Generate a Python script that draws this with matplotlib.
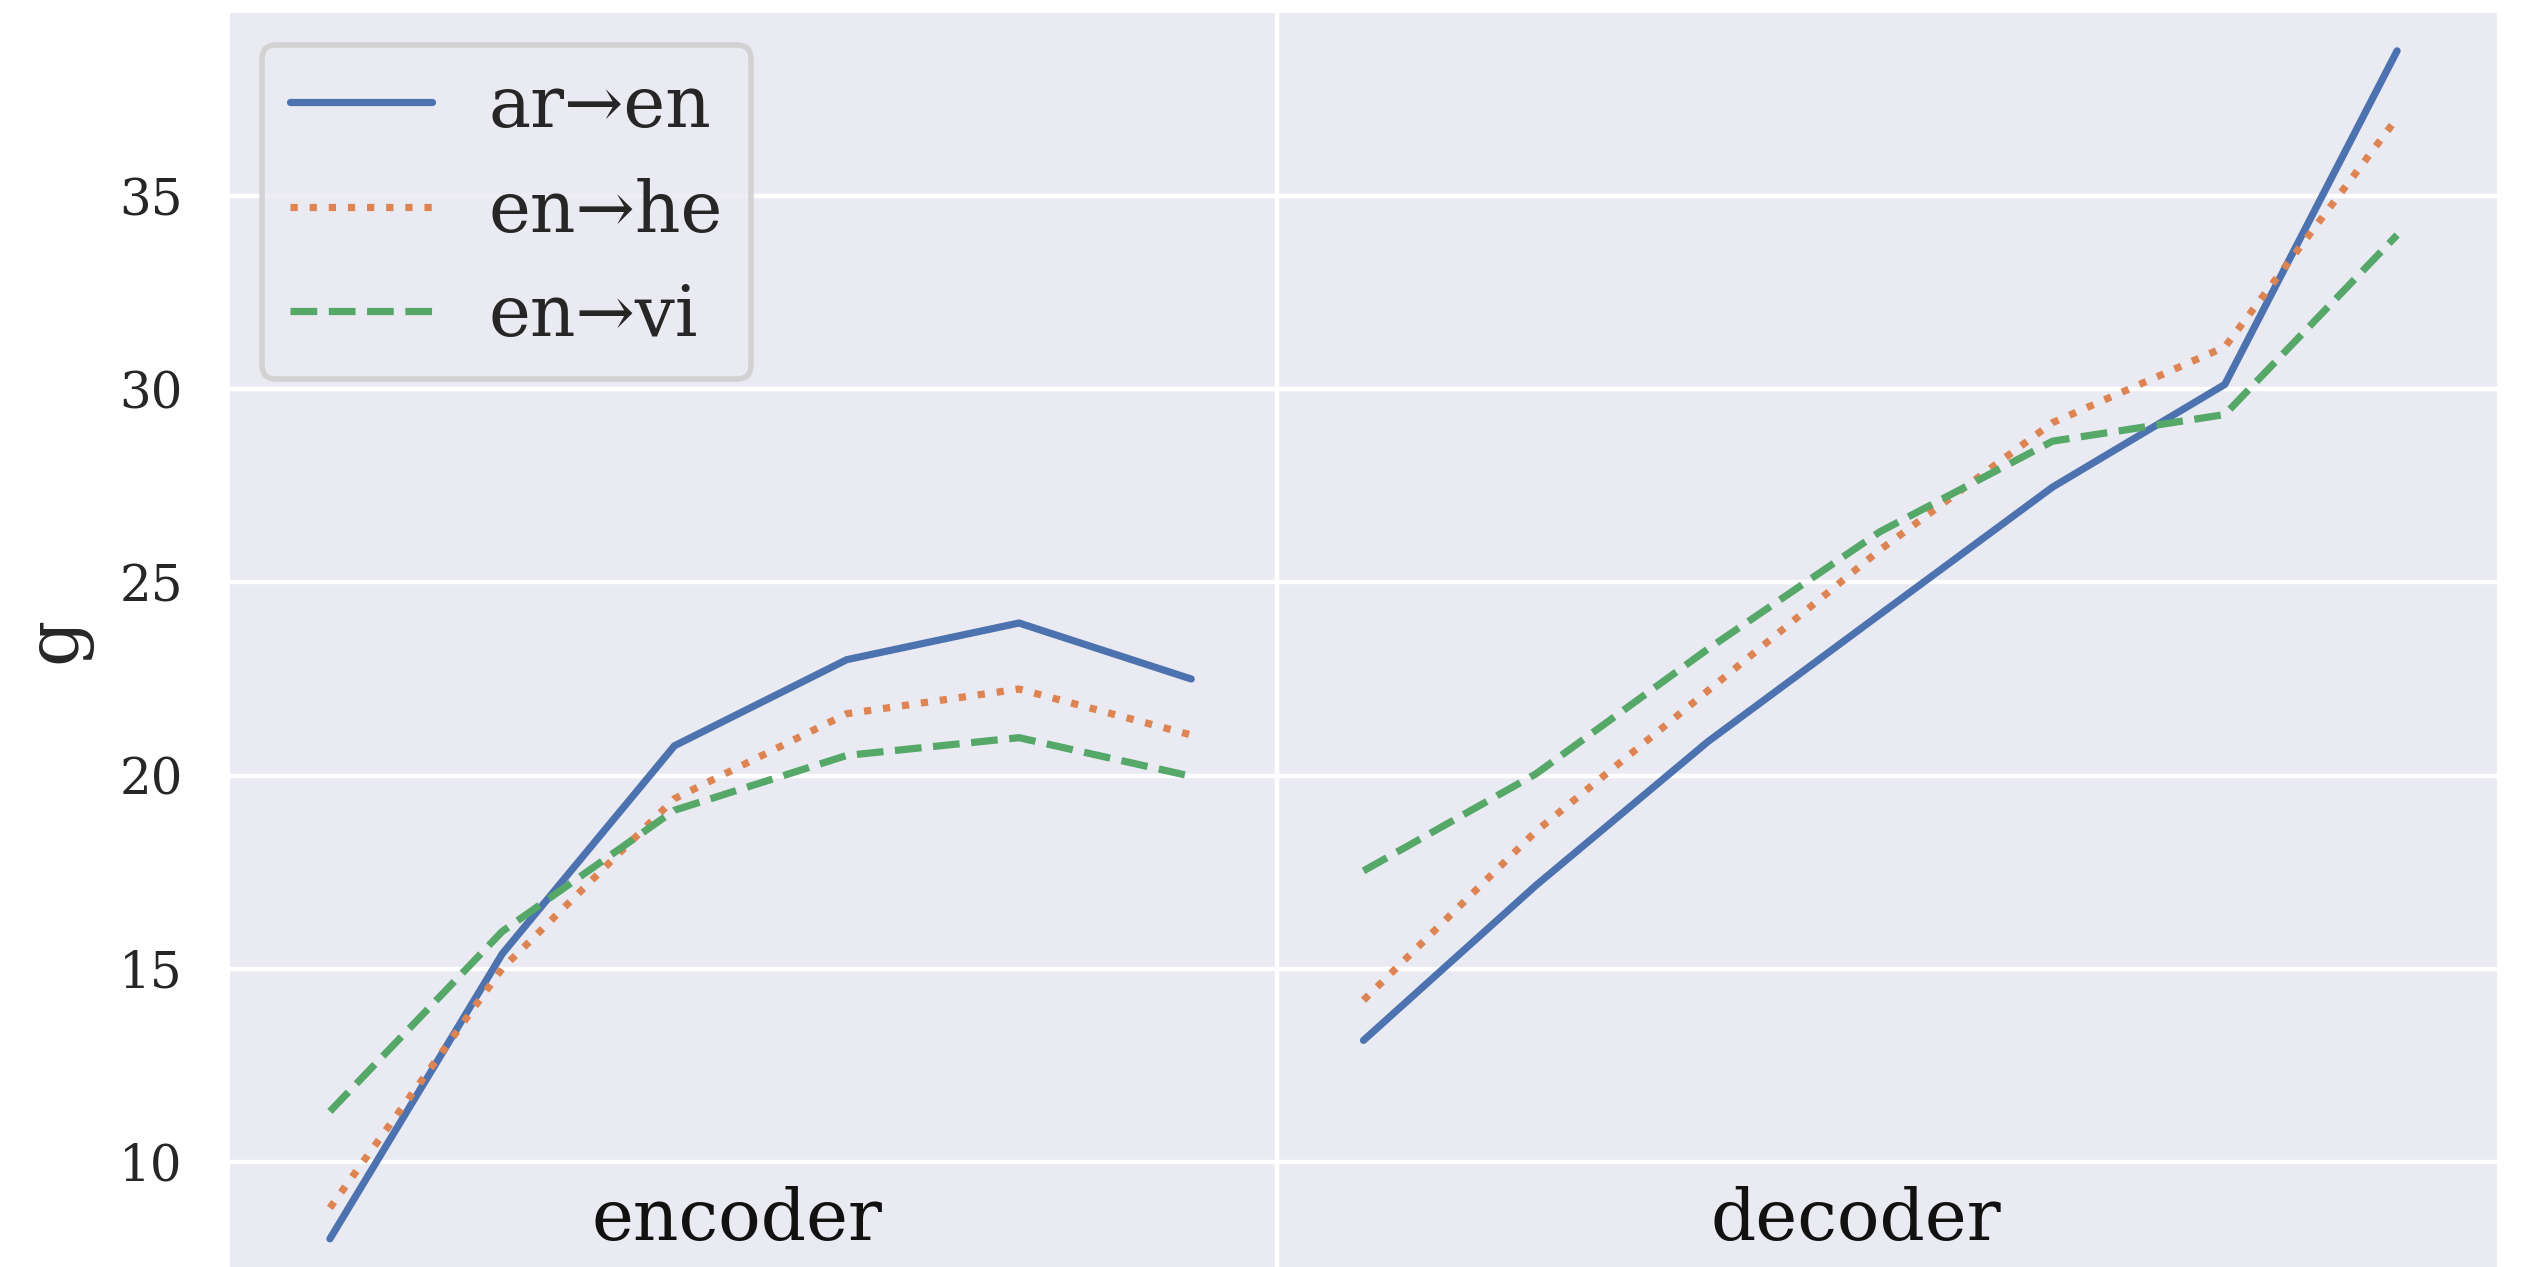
import numpy as np
import matplotlib
matplotlib.use("Agg")
import matplotlib.pyplot as plt
import seaborn as sns

sns.set_theme(style="darkgrid")
plt.rcParams['font.family'] = ['DejaVu Serif']

series_names = ["ar→en", "en→he", "en→vi"]
enc_ar_en = [8.0, 15.38, 20.77, 23.0, 23.95, 22.5]
dec_ar_en = [13.14, 17.15, 20.88, 24.18, 27.47, 30.13, 38.77]
enc_en_he = [8.8, 15.0, 19.4, 21.6, 22.24, 21.05]
dec_en_he = [14.18, 18.55, 22.2, 25.85, 29.14, 31.1, 37.03]
enc_en_vi = [11.3, 15.96, 19.1, 20.52, 20.98, 19.98]
dec_en_vi = [17.53, 20.04, 23.28, 26.32, 28.66, 29.35, 34.0]
section_labels = ["encoder", "decoder"]
yticks = [10, 15, 20, 25, 30, 35]

colors = sns.color_palette("deep")
styles = ["-", ":", "--"]
enc = [enc_ar_en, enc_en_he, enc_en_vi]
dec = [dec_ar_en, dec_en_he, dec_en_vi]

fig = plt.figure(figsize=(12.63, 6.335), dpi=200)
ax = fig.add_axes([230/2526, 0.0, (2497-230)/2526, (1267-13)/1267])

for i, name in enumerate(series_names):
    xe = np.arange(len(enc[i]))
    xd = np.arange(len(dec[i])) + len(enc[i])
    ax.plot(xe, enc[i], linestyle=styles[i], color=colors[i], linewidth=2.6, label=name)
    ax.plot(xd, dec[i], linestyle=styles[i], color=colors[i], linewidth=2.6)

ax.set_xlim(-0.58, 12.58)
ax.set_ylim(7.27, 39.75)
ax.set_yticks(yticks)
ax.set_xticks([5.5])
ax.set_xticklabels([])
ax.grid(True, color="white", linewidth=1.6)
ax.tick_params(axis="y", labelsize=18, pad=17, length=0)
ax.tick_params(axis="x", length=0)
for s in ax.spines.values():
    s.set_visible(False)

ax.text(2.36, 7.97, section_labels[0], fontsize=25.5, ha="center", va="baseline", color="#111111")
ax.text(8.86, 7.97, section_labels[1], fontsize=25.5, ha="center", va="baseline", color="#111111")

ax.set_ylabel("g", fontsize=26, labelpad=10)

leg = ax.legend(loc="upper left", fontsize=25.5, frameon=True, borderaxespad=0.45)
leg.get_frame().set_edgecolor("#cccccc")
leg.get_frame().set_linewidth(2)

fig.savefig("out.png", dpi=200)
